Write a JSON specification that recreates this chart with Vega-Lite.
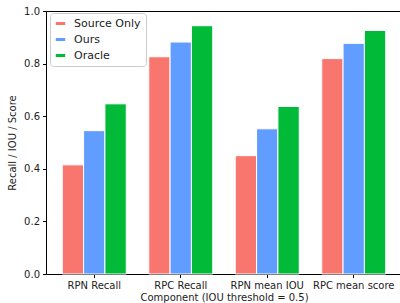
{
  "$schema": "https://vega.github.io/schema/vega-lite/v6.json",
  "width": 356,
  "height": 263,
  "autosize": {"type": "none"},
  "padding": {"left": 46, "top": 11, "right": 0, "bottom": 29},
  "background": "white",
  "config": {
    "font": "DejaVu Sans",
    "view": {"stroke": "black", "strokeWidth": 1},
    "axis": {
      "labelFont": "DejaVu Sans",
      "titleFont": "DejaVu Sans",
      "labelFontSize": 10,
      "titleFontSize": 10,
      "titleFontWeight": "normal",
      "labelColor": "#222",
      "titleColor": "#222",
      "domainColor": "black",
      "tickColor": "black",
      "tickSize": 3.5,
      "grid": false
    },
    "legend": {
      "labelFont": "DejaVu Sans",
      "labelFontSize": 11,
      "labelColor": "#222"
    }
  },
  "data": {
    "values": [
      {"component": "RPN Recall", "method": "Source Only", "value": 0.415},
      {"component": "RPN Recall", "method": "Ours", "value": 0.545},
      {"component": "RPN Recall", "method": "Oracle", "value": 0.647},
      {"component": "RPC Recall", "method": "Source Only", "value": 0.826},
      {"component": "RPC Recall", "method": "Ours", "value": 0.882},
      {"component": "RPC Recall", "method": "Oracle", "value": 0.944},
      {"component": "RPN mean IOU", "method": "Source Only", "value": 0.450},
      {"component": "RPN mean IOU", "method": "Ours", "value": 0.552},
      {"component": "RPN mean IOU", "method": "Oracle", "value": 0.637},
      {"component": "RPC mean score", "method": "Source Only", "value": 0.819},
      {"component": "RPC mean score", "method": "Ours", "value": 0.877},
      {"component": "RPC mean score", "method": "Oracle", "value": 0.926}
    ]
  },
  "mark": {"type": "bar", "stroke": "white", "strokeWidth": 1},
  "encoding": {
    "x": {
      "field": "component",
      "type": "nominal",
      "sort": ["RPN Recall", "RPC Recall", "RPN mean IOU", "RPC mean score"],
      "scale": {"paddingInner": 0.26, "paddingOuter": 0.188},
      "axis": {"labelAngle": 0, "title": "Component (IOU threshold = 0.5)", "labelPadding": 3, "titlePadding": 2}
    },
    "xOffset": {
      "field": "method",
      "type": "nominal",
      "sort": ["Source Only", "Ours", "Oracle"],
      "scale": {"paddingInner": 0, "paddingOuter": 0}
    },
    "y": {
      "field": "value",
      "type": "quantitative",
      "scale": {"domain": [0, 1], "nice": false},
      "axis": {"values": [0, 0.2, 0.4, 0.6, 0.8, 1.0], "format": ".1f", "title": "Recall / IOU / Score", "labelPadding": 3, "titlePadding": 6}
    },
    "color": {
      "field": "method",
      "type": "nominal",
      "sort": ["Source Only", "Ours", "Oracle"],
      "scale": {"domain": ["Source Only", "Ours", "Oracle"], "range": ["#F8766D", "#619CFF", "#00BA38"]},
      "legend": {
        "title": null,
        "orient": "none",
        "legendX": 4,
        "legendY": 2,
        "symbolType": "M-1,-0.32H1V0.32H-1Z",
        "symbolSize": 90,
        "symbolStrokeWidth": 0,
        "labelFontSize": 11,
        "labelFont": "DejaVu Sans",
        "labelColor": "#222",
        "rowPadding": 4,
        "labelOffset": 8,
        "padding": 5,
        "strokeColor": "#cccccc",
        "fillColor": "white",
        "cornerRadius": 3
      }
    }
  }
}
